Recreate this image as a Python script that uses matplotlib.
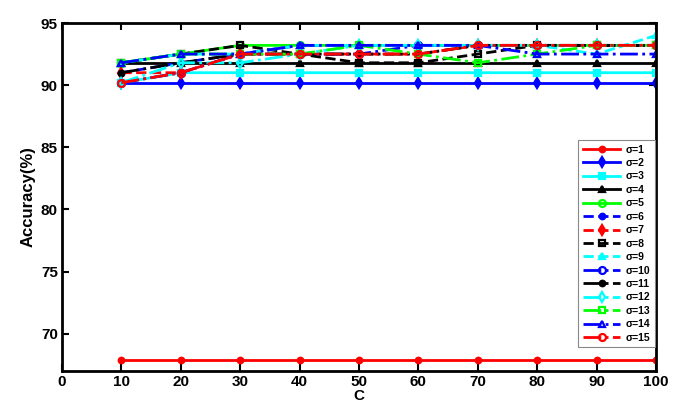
import matplotlib
matplotlib.use("Agg")
import matplotlib.pyplot as plt

C = [10, 20, 30, 40, 50, 60, 70, 80, 90, 100]
s1 = [67.9] * 10
s2 = [90.2] * 10
s3 = [90.2, 91.0, 91.0, 91.0, 91.0, 91.0, 91.0, 91.0, 91.0, 91.0]
s4 = [91.8] * 10
s5 = [91.8, 92.5, 93.2, 93.2, 93.2, 93.2, 93.2, 93.2, 93.2, 93.2]
s6 = [91.0, 91.8, 92.5, 93.2, 93.2, 93.2, 93.2, 93.2, 93.2, 93.2]
s7 = [91.0, 91.0, 92.5, 92.5, 92.5, 92.5, 93.2, 93.2, 93.2, 93.2]
s8 = [91.8, 92.5, 93.2, 92.5, 91.8, 91.8, 92.5, 93.2, 93.2, 93.2]
s9 = [91.8, 92.5, 92.5, 93.2, 93.2, 93.2, 93.2, 93.2, 92.5, 94.0]
s10 = [90.2, 91.0, 92.5, 92.5, 92.5, 93.2, 93.2, 93.2, 93.2, 93.2]
s11 = [91.0, 91.8, 92.5, 92.5, 92.5, 92.5, 93.2, 93.2, 93.2, 93.2]
s12 = [90.2, 91.8, 91.8, 92.5, 93.2, 93.2, 93.2, 93.2, 93.2, 93.2]
s13 = [91.8, 92.5, 92.5, 92.5, 93.2, 92.5, 91.8, 92.5, 93.2, 93.2]
s14 = [91.8, 92.5, 92.5, 93.2, 93.2, 93.2, 93.2, 92.5, 92.5, 92.5]
s15 = [90.2, 91.0, 92.5, 92.5, 92.5, 92.5, 93.2, 93.2, 93.2, 93.2]
labels = ["σ=%d" % i for i in range(1, 16)]
series = [s1, s2, s3, s4, s5, s6, s7, s8, s9, s10, s11, s12, s13, s14, s15]

styles = [
    ("#ff0000", "-", "o", "full"),
    ("#0000ff", "-", "d", "full"),
    ("#00ffff", "-", "s", "full"),
    ("#000000", "-", "^", "full"),
    ("#00ff00", "-", "o", "none"),
    ("#0000ff", "--", "o", "full"),
    ("#ff0000", "--", "d", "full"),
    ("#000000", "--", "s", "none"),
    ("#00ffff", "--", "^", "full"),
    ("#0000ff", "-.", "o", "none"),
    ("#000000", "-.", "o", "full"),
    ("#00ffff", "-.", "d", "none"),
    ("#00ff00", "-.", "s", "none"),
    ("#0000ff", "-.", "^", "none"),
    ("#ff0000", "-.", "o", "none"),
]

plt.rcParams['font.family'] = ['Liberation Sans', 'DejaVu Sans']
fig = plt.figure(figsize=(6.78, 4.03), dpi=100)
ax = fig.add_axes([62/678, 1-371/403, (656-62)/678, (371-23)/403])

for ys, lab, (col, ls, mk, fs) in zip(series, labels, styles):
    ms = 5 if mk != "o" or fs == "none" else 4
    ax.plot(C, ys, color=col, linestyle=ls, marker=mk, markersize=ms,
            fillstyle=fs, markeredgewidth=1.6, linewidth=2, label=lab)

ax.set_xlim(0, 100)
ax.set_ylim(67, 95)
ax.set_xticks(range(0, 101, 10))
ax.set_yticks([70, 75, 80, 85, 90, 95])
ax.tick_params(direction='in', top=True, right=True, length=5, width=1.5,
               labelsize=11, pad=3)
for lbl in ax.get_xticklabels() + ax.get_yticklabels():
    lbl.set_fontweight('bold')
for sp in ax.spines.values():
    sp.set_linewidth(2)
ax.set_xlabel("C", fontsize=11, fontweight='bold', labelpad=0)
ax.set_ylabel("Accuracy(%)", fontsize=12, fontweight='bold')

leg = ax.legend(loc='upper right', bbox_to_anchor=(1.0, 0.667),
                prop={'size': 7.5, 'weight': 'bold'}, handlelength=3.6,
                handletextpad=0.5, labelspacing=0.33, borderpad=0.45,
                borderaxespad=0.1,
                frameon=True, fancybox=False, framealpha=1, edgecolor='#888888')
leg.get_frame().set_linewidth(0.8)

fig.savefig("out.png", dpi=100)
